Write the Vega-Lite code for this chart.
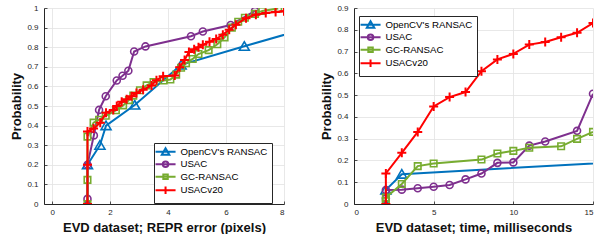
{
  "$schema": "https://vega.github.io/schema/vega-lite/v6.json",
  "background": "white",
  "padding": {"left": 10, "top": 4, "right": 0, "bottom": 0},
  "spacing": 70,
  "bounds": "flush",
  "config": {
    "view": {"stroke": null},
    "font": "Liberation Sans",
    "axis": {
      "labelFont": "Liberation Sans", "labelFontSize": 8, "labelColor": "#262626",
      "titleFont": "Liberation Sans", "titleFontSize": 13, "titleFontWeight": "bold", "titleColor": "#111111",
      "gridColor": "#e2e2e2", "gridWidth": 0.8, "domainColor": "#262626", "domainWidth": 1,
      "tickColor": "#262626", "tickSize": -3, "tickWidth": 0.8
    },
    "axisX": {"labelPadding": 7, "titlePadding": 5},
    "axisY": {"labelPadding": 9, "titlePadding": 3},
    "legend": {
      "labelFont": "Liberation Sans", "labelFontSize": 9.7, "labelColor": "#000000",
      "strokeColor": "#262626", "fillColor": "white", "padding": 4, "rowPadding": -1.5,
      "symbolSize": 49, "symbolStrokeWidth": 2, "labelOffset": 10, "symbolOffset": 2.7
    }
  },
  "resolve": {
    "scale": {"color": "independent"},
    "legend": {"color": "independent"}
  },
  "datasets": {
    "repr": [
      {"s": "OpenCV's RANSAC", "x": 1.22, "y": 0},
      {"s": "OpenCV's RANSAC", "x": 1.22, "y": 0.2},
      {"s": "OpenCV's RANSAC", "x": 1.65, "y": 0.3},
      {"s": "OpenCV's RANSAC", "x": 1.86, "y": 0.4},
      {"s": "OpenCV's RANSAC", "x": 2.85, "y": 0.505},
      {"s": "OpenCV's RANSAC", "x": 4.45, "y": 0.71},
      {"s": "OpenCV's RANSAC", "x": 6.63, "y": 0.805},
      {"s": "OpenCV's RANSAC", "x": 9.0, "y": 0.905},
      {"s": "USAC", "x": 1.22, "y": 0.026},
      {"s": "USAC", "x": 1.22, "y": 0.2},
      {"s": "USAC", "x": 1.44, "y": 0.35},
      {"s": "USAC", "x": 1.62, "y": 0.48},
      {"s": "USAC", "x": 1.85, "y": 0.55},
      {"s": "USAC", "x": 2.23, "y": 0.63},
      {"s": "USAC", "x": 2.43, "y": 0.654},
      {"s": "USAC", "x": 2.63, "y": 0.68},
      {"s": "USAC", "x": 2.83, "y": 0.778},
      {"s": "USAC", "x": 3.22, "y": 0.804},
      {"s": "USAC", "x": 4.79, "y": 0.856},
      {"s": "USAC", "x": 5.2, "y": 0.88},
      {"s": "USAC", "x": 6.16, "y": 0.913},
      {"s": "USAC", "x": 7.0, "y": 0.985},
      {"s": "GC-RANSAC", "x": 1.22, "y": 0},
      {"s": "GC-RANSAC", "x": 1.22, "y": 0.123},
      {"s": "GC-RANSAC", "x": 1.22, "y": 0.344},
      {"s": "GC-RANSAC", "x": 1.43, "y": 0.415},
      {"s": "GC-RANSAC", "x": 1.62, "y": 0.43},
      {"s": "GC-RANSAC", "x": 1.85, "y": 0.45},
      {"s": "GC-RANSAC", "x": 2.2, "y": 0.478},
      {"s": "GC-RANSAC", "x": 2.45, "y": 0.503},
      {"s": "GC-RANSAC", "x": 2.65, "y": 0.53},
      {"s": "GC-RANSAC", "x": 2.8, "y": 0.553},
      {"s": "GC-RANSAC", "x": 3.03, "y": 0.58},
      {"s": "GC-RANSAC", "x": 3.26, "y": 0.605},
      {"s": "GC-RANSAC", "x": 3.5, "y": 0.622},
      {"s": "GC-RANSAC", "x": 3.85, "y": 0.63},
      {"s": "GC-RANSAC", "x": 4.08, "y": 0.635},
      {"s": "GC-RANSAC", "x": 4.28, "y": 0.66},
      {"s": "GC-RANSAC", "x": 4.45, "y": 0.695},
      {"s": "GC-RANSAC", "x": 4.62, "y": 0.718},
      {"s": "GC-RANSAC", "x": 4.85, "y": 0.74},
      {"s": "GC-RANSAC", "x": 5.05, "y": 0.765},
      {"s": "GC-RANSAC", "x": 5.4, "y": 0.785},
      {"s": "GC-RANSAC", "x": 5.7, "y": 0.815},
      {"s": "GC-RANSAC", "x": 5.95, "y": 0.85},
      {"s": "GC-RANSAC", "x": 6.2, "y": 0.9},
      {"s": "GC-RANSAC", "x": 6.42, "y": 0.93},
      {"s": "GC-RANSAC", "x": 6.65, "y": 0.95},
      {"s": "GC-RANSAC", "x": 7.0, "y": 0.97},
      {"s": "GC-RANSAC", "x": 7.25, "y": 0.985},
      {"s": "GC-RANSAC", "x": 7.8, "y": 0.998},
      {"s": "USACv20", "x": 1.22, "y": 0},
      {"s": "USACv20", "x": 1.22, "y": 0.2},
      {"s": "USACv20", "x": 1.22, "y": 0.37},
      {"s": "USACv20", "x": 1.43, "y": 0.385},
      {"s": "USACv20", "x": 1.66, "y": 0.415},
      {"s": "USACv20", "x": 1.86, "y": 0.466},
      {"s": "USACv20", "x": 2.11, "y": 0.48},
      {"s": "USACv20", "x": 2.23, "y": 0.5},
      {"s": "USACv20", "x": 2.4, "y": 0.522},
      {"s": "USACv20", "x": 2.57, "y": 0.535},
      {"s": "USACv20", "x": 2.74, "y": 0.55},
      {"s": "USACv20", "x": 2.91, "y": 0.566},
      {"s": "USACv20", "x": 3.14, "y": 0.583},
      {"s": "USACv20", "x": 3.43, "y": 0.605},
      {"s": "USACv20", "x": 3.6, "y": 0.632},
      {"s": "USACv20", "x": 3.83, "y": 0.652},
      {"s": "USACv20", "x": 4.23, "y": 0.655},
      {"s": "USACv20", "x": 4.4, "y": 0.698},
      {"s": "USACv20", "x": 4.57, "y": 0.735},
      {"s": "USACv20", "x": 4.72, "y": 0.775},
      {"s": "USACv20", "x": 4.9, "y": 0.79},
      {"s": "USACv20", "x": 5.05, "y": 0.8},
      {"s": "USACv20", "x": 5.2, "y": 0.812},
      {"s": "USACv20", "x": 5.43, "y": 0.828},
      {"s": "USACv20", "x": 5.66, "y": 0.842},
      {"s": "USACv20", "x": 5.89, "y": 0.864},
      {"s": "USACv20", "x": 6.11, "y": 0.889},
      {"s": "USACv20", "x": 6.34, "y": 0.915},
      {"s": "USACv20", "x": 6.69, "y": 0.948},
      {"s": "USACv20", "x": 7.03, "y": 0.966},
      {"s": "USACv20", "x": 7.37, "y": 0.974},
      {"s": "USACv20", "x": 7.71, "y": 0.98},
      {"s": "USACv20", "x": 8.0, "y": 0.983}
    ],
    "time": [
      {"s": "OpenCV's RANSAC", "x": 2, "y": 0},
      {"s": "OpenCV's RANSAC", "x": 2, "y": 0.065},
      {"s": "OpenCV's RANSAC", "x": 3, "y": 0.137},
      {"s": "OpenCV's RANSAC", "x": 26, "y": 0.231},
      {"s": "USAC", "x": 2, "y": 0.026},
      {"s": "USAC", "x": 2, "y": 0.064},
      {"s": "USAC", "x": 3, "y": 0.066},
      {"s": "USAC", "x": 4, "y": 0.072},
      {"s": "USAC", "x": 5, "y": 0.079},
      {"s": "USAC", "x": 6, "y": 0.087},
      {"s": "USAC", "x": 7, "y": 0.113},
      {"s": "USAC", "x": 8, "y": 0.14},
      {"s": "USAC", "x": 9, "y": 0.189},
      {"s": "USAC", "x": 10, "y": 0.191},
      {"s": "USAC", "x": 11, "y": 0.268},
      {"s": "USAC", "x": 12, "y": 0.287},
      {"s": "USAC", "x": 14, "y": 0.336},
      {"s": "USAC", "x": 15, "y": 0.506},
      {"s": "GC-RANSAC", "x": 2, "y": 0},
      {"s": "GC-RANSAC", "x": 2, "y": 0.013},
      {"s": "GC-RANSAC", "x": 2, "y": 0.03},
      {"s": "GC-RANSAC", "x": 3, "y": 0.092},
      {"s": "GC-RANSAC", "x": 4, "y": 0.174},
      {"s": "GC-RANSAC", "x": 5, "y": 0.186},
      {"s": "GC-RANSAC", "x": 8, "y": 0.204},
      {"s": "GC-RANSAC", "x": 9, "y": 0.232},
      {"s": "GC-RANSAC", "x": 10, "y": 0.244},
      {"s": "GC-RANSAC", "x": 11, "y": 0.258},
      {"s": "GC-RANSAC", "x": 13, "y": 0.265},
      {"s": "GC-RANSAC", "x": 14, "y": 0.299},
      {"s": "GC-RANSAC", "x": 15, "y": 0.331},
      {"s": "USACv20", "x": 2, "y": 0},
      {"s": "USACv20", "x": 2, "y": 0.14},
      {"s": "USACv20", "x": 3, "y": 0.235},
      {"s": "USACv20", "x": 4, "y": 0.331},
      {"s": "USACv20", "x": 5, "y": 0.448},
      {"s": "USACv20", "x": 6, "y": 0.491},
      {"s": "USACv20", "x": 7, "y": 0.514},
      {"s": "USACv20", "x": 8, "y": 0.61},
      {"s": "USACv20", "x": 9, "y": 0.664},
      {"s": "USACv20", "x": 10, "y": 0.689},
      {"s": "USACv20", "x": 11, "y": 0.732},
      {"s": "USACv20", "x": 12, "y": 0.744},
      {"s": "USACv20", "x": 13, "y": 0.766},
      {"s": "USACv20", "x": 14, "y": 0.786},
      {"s": "USACv20", "x": 15, "y": 0.831}
    ]
  },
  "hconcat": [
    {
      "width": 240,
      "height": 196,
      "data": {"name": "repr"},
      "encoding": {
        "x": {"field": "x", "type": "quantitative", "scale": {"domain": [-0.28, 8], "nice": false, "zero": false},
              "axis": {"values": [0, 2, 4, 6, 8], "title": "EVD dataset; REPR error (pixels)", "grid": true}},
        "y": {"field": "y", "type": "quantitative", "scale": {"domain": [0, 1], "nice": false},
              "axis": {"values": [0, 0.1, 0.2, 0.3, 0.4, 0.5, 0.6, 0.7, 0.8, 0.9, 1], "format": "~g", "title": "Probability", "grid": true}},
        "color": {"field": "s", "type": "nominal",
                  "scale": {"domain": ["OpenCV's RANSAC", "USAC", "GC-RANSAC", "USACv20"], "range": ["#0072BD", "#7E2F8E", "#77AC30", "#FF0000"]},
                  "legend": {"title": null, "orient": "none", "legendX": 110, "legendY": 135, "rowPadding": -1.5, "symbolSize": 49,
                             "encoding": {"symbols": {"shape": {"value": {"expr": "datum.value === 'USAC' ? 'M-2.86,0H2.86M0.79,0A0.79,0.79 0 1,1 -0.79,0A0.79,0.79 0 1,1 0.79,0Z' : datum.value === 'GC-RANSAC' ? 'M-2.86,0H2.86M-0.64,-0.64H0.64V0.64H-0.64Z' : datum.value === 'USACv20' ? 'M-2.86,0H2.86M0,-1.07V1.07' : 'M-2.86,0H2.86M0,-1L1.07,0.86L-1.07,0.86Z'"}}, "fill": {"value": "transparent"}, "strokeWidth": {"value": 2}}}}}
      },
      "layer": [
        {"transform": [{"filter": {"field": "s", "equal": "OpenCV's RANSAC"}}], "mark": {"type": "line", "strokeWidth": 2, "clip": true}, "encoding": {"order": {"value": null}}},
        {"transform": [{"filter": {"field": "s", "equal": "OpenCV's RANSAC"}}], "mark": {"type": "point", "shape": "M0,-0.9L1,0.8L-1,0.8Z", "filled": false, "size": 100, "strokeWidth": 1.6, "opacity": 1, "clip": true}},
        {"transform": [{"filter": {"field": "s", "equal": "USAC"}}], "mark": {"type": "line", "strokeWidth": 2, "clip": true}, "encoding": {"order": {"value": null}}},
        {"transform": [{"filter": {"field": "s", "equal": "USAC"}}], "mark": {"type": "point", "shape": "M0.7,0A0.7,0.7 0 1,1 -0.7,0A0.7,0.7 0 1,1 0.7,0Z", "filled": false, "size": 100, "strokeWidth": 1.6, "opacity": 1, "clip": true}},
        {"transform": [{"filter": {"field": "s", "equal": "GC-RANSAC"}}], "mark": {"type": "line", "strokeWidth": 2, "clip": true}, "encoding": {"order": {"value": null}}},
        {"transform": [{"filter": {"field": "s", "equal": "GC-RANSAC"}}], "mark": {"type": "point", "shape": "M-0.65,-0.65H0.65V0.65H-0.65Z", "filled": false, "size": 100, "strokeWidth": 1.6, "opacity": 1, "clip": true}},
        {"transform": [{"filter": {"field": "s", "equal": "USACv20"}}], "mark": {"type": "line", "strokeWidth": 2, "clip": true}, "encoding": {"order": {"value": null}}},
        {"transform": [{"filter": {"field": "s", "equal": "USACv20"}}], "mark": {"type": "point", "shape": "M-0.9,0H0.9M0,-0.9V0.9", "filled": false, "size": 100, "strokeWidth": 2, "opacity": 1, "clip": true}}
      ]
    },
    {
      "width": 239,
      "height": 196,
      "data": {"name": "time"},
      "encoding": {
        "x": {"field": "x", "type": "quantitative", "scale": {"domain": [0, 15], "nice": false, "zero": false},
              "axis": {"values": [0, 5, 10, 15], "title": "EVD dataset; time, milliseconds", "grid": true}},
        "y": {"field": "y", "type": "quantitative", "scale": {"domain": [0, 0.9], "nice": false},
              "axis": {"values": [0, 0.1, 0.2, 0.3, 0.4, 0.5, 0.6, 0.7, 0.8, 0.9], "format": "~g", "title": "Probability", "grid": true}},
        "color": {"field": "s", "type": "nominal",
                  "scale": {"domain": ["OpenCV's RANSAC", "USAC", "GC-RANSAC", "USACv20"], "range": ["#0072BD", "#7E2F8E", "#77AC30", "#FF0000"]},
                  "legend": {"title": null, "orient": "none", "legendX": 5, "legendY": 8, "rowPadding": -1.5, "symbolSize": 49,
                             "encoding": {"symbols": {"shape": {"value": {"expr": "datum.value === 'USAC' ? 'M-2.86,0H2.86M0.79,0A0.79,0.79 0 1,1 -0.79,0A0.79,0.79 0 1,1 0.79,0Z' : datum.value === 'GC-RANSAC' ? 'M-2.86,0H2.86M-0.64,-0.64H0.64V0.64H-0.64Z' : datum.value === 'USACv20' ? 'M-2.86,0H2.86M0,-1.07V1.07' : 'M-2.86,0H2.86M0,-1L1.07,0.86L-1.07,0.86Z'"}}, "fill": {"value": "transparent"}, "strokeWidth": {"value": 2}}}}}
      },
      "layer": [
        {"transform": [{"filter": {"field": "s", "equal": "OpenCV's RANSAC"}}], "mark": {"type": "line", "strokeWidth": 2, "clip": true}, "encoding": {"order": {"value": null}}},
        {"transform": [{"filter": {"field": "s", "equal": "OpenCV's RANSAC"}}], "mark": {"type": "point", "shape": "M0,-0.9L1,0.8L-1,0.8Z", "filled": false, "size": 100, "strokeWidth": 1.6, "opacity": 1, "clip": true}},
        {"transform": [{"filter": {"field": "s", "equal": "USAC"}}], "mark": {"type": "line", "strokeWidth": 2, "clip": true}, "encoding": {"order": {"value": null}}},
        {"transform": [{"filter": {"field": "s", "equal": "USAC"}}], "mark": {"type": "point", "shape": "M0.7,0A0.7,0.7 0 1,1 -0.7,0A0.7,0.7 0 1,1 0.7,0Z", "filled": false, "size": 100, "strokeWidth": 1.6, "opacity": 1, "clip": true}},
        {"transform": [{"filter": {"field": "s", "equal": "GC-RANSAC"}}], "mark": {"type": "line", "strokeWidth": 2, "clip": true}, "encoding": {"order": {"value": null}}},
        {"transform": [{"filter": {"field": "s", "equal": "GC-RANSAC"}}], "mark": {"type": "point", "shape": "M-0.65,-0.65H0.65V0.65H-0.65Z", "filled": false, "size": 100, "strokeWidth": 1.6, "opacity": 1, "clip": true}},
        {"transform": [{"filter": {"field": "s", "equal": "USACv20"}}], "mark": {"type": "line", "strokeWidth": 2, "clip": true}, "encoding": {"order": {"value": null}}},
        {"transform": [{"filter": {"field": "s", "equal": "USACv20"}}], "mark": {"type": "point", "shape": "M-0.9,0H0.9M0,-0.9V0.9", "filled": false, "size": 100, "strokeWidth": 2, "opacity": 1, "clip": true}}
      ]
    }
  ]
}
